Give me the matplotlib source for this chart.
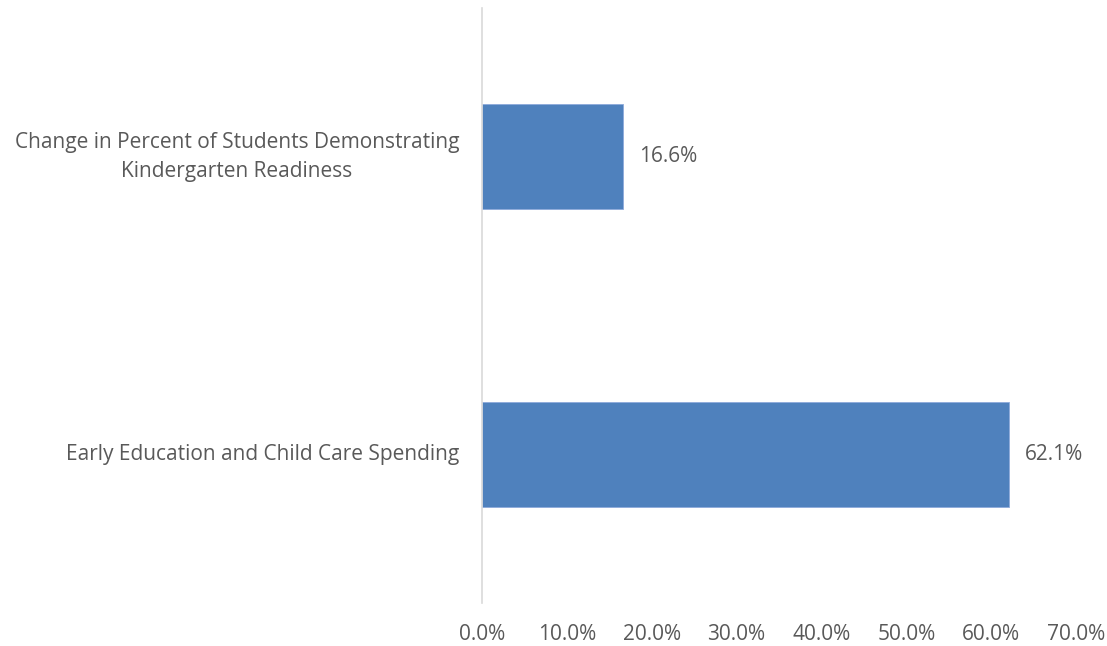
import matplotlib
matplotlib.use("Agg")
import matplotlib.pyplot as plt
from matplotlib.ticker import FuncFormatter

categories = ["Early Education and Child Care Spending",
              "Change in Percent of Students Demonstrating\nKindergarten Readiness"]
values = [62.1, 16.6]
x_ticks = [0, 10, 20, 30, 40, 50, 60, 70]

plt.rcParams['font.family'] = ['Open Sans', 'DejaVu Sans']
text_color = "#595959"
bar_color = "#4F81BD"
fs = 15

fig = plt.figure(figsize=(11.07, 6.46), dpi=100)
ax = fig.add_axes([482 / 1107, 1 - 603 / 646, (1076 - 482) / 1107, (603 - 8) / 646])

pos = list(range(len(categories)))
bars = ax.barh(pos, values, height=0.353, color=bar_color,
               edgecolor="#8EAADB", linewidth=0.6)

ax.set_xlim(0, 70)
ax.set_ylim(-0.5, len(categories) - 0.5)
ax.set_xticks(x_ticks)
ax.xaxis.set_major_formatter(FuncFormatter(lambda v, _: f"{v:.1f}%"))
ax.set_yticks(pos)
ax.set_yticklabels(categories, multialignment="center", linespacing=1.5,
                   va="center")

for s in ["top", "right", "bottom"]:
    ax.spines[s].set_visible(False)
ax.spines["left"].set_color("#D9D9D9")
ax.spines["left"].set_linewidth(1.2)

ax.tick_params(axis="both", length=0, labelsize=fs, colors=text_color)
ax.tick_params(axis="x", pad=15)
ax.tick_params(axis="y", pad=16.5)

for b, v in zip(bars, values):
    ax.text(b.get_width() + 1.9, b.get_y() + b.get_height() / 2, f"{v:.1f}%",
            va="center", ha="left", fontsize=fs, color=text_color)

fig.savefig("out.png", dpi=100)
